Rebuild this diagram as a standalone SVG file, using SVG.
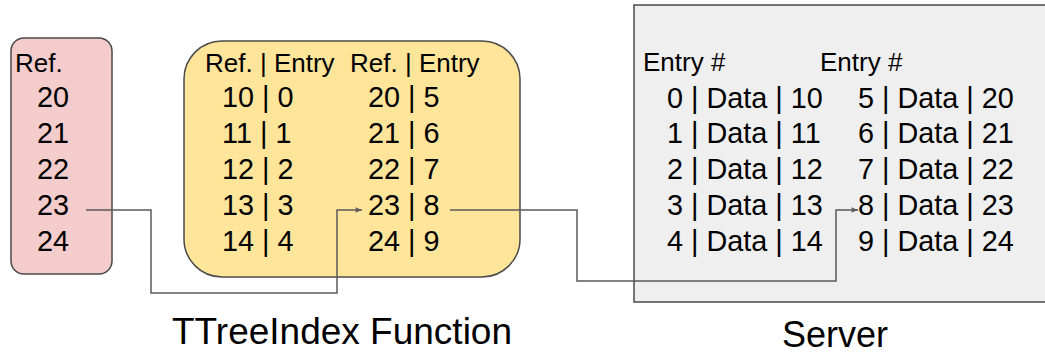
<svg xmlns="http://www.w3.org/2000/svg" width="1045" height="355" viewBox="0 0 1045 355">
<style>
.box{stroke:#4a4a4a;stroke-width:1.5}
text{font-family:"Liberation Sans",Arial,sans-serif;fill:#000}
.h{font-size:26px}
.r{font-size:28.8px}
.t{font-size:37px}
.conn{fill:none;stroke:#595959;stroke-width:1.5}
</style>
<defs>
<marker id="arr" viewBox="0 0 10 10" refX="10" refY="5" markerWidth="7" markerHeight="7" markerUnits="userSpaceOnUse" orient="auto">
<path d="M0,1 L10,5 L0,9 L2,5 Z" fill="#595959"/>
</marker>
</defs>
<rect width="1045" height="355" fill="#fff"/>
<g id="server">
<rect class="box" x="634" y="5" width="420" height="297" fill="#efefef"/>
<text class="h" x="643" y="71">Entry #</text>
<text class="h" x="820" y="71">Entry #</text>
<text class="r" x="667" y="108">0 | Data | 10</text>
<text class="r" x="667" y="143">1 | Data | 11</text>
<text class="r" x="667" y="179">2 | Data | 12</text>
<text class="r" x="667" y="215">3 | Data | 13</text>
<text class="r" x="667" y="251">4 | Data | 14</text>
<text class="r" x="858" y="108">5 | Data | 20</text>
<text class="r" x="858" y="143">6 | Data | 21</text>
<text class="r" x="858" y="179">7 | Data | 22</text>
<text class="r" x="858" y="215">8 | Data | 23</text>
<text class="r" x="858" y="251">9 | Data | 24</text>
<text class="t" x="782" y="347" style="font-size:36px">Server</text>
</g>
<g id="refs">
<rect class="box" x="11" y="38" width="101" height="236" rx="13" fill="#f4cccc"/>
<text class="h" x="15" y="72">Ref.</text>
<text class="r" x="37" y="107">20</text>
<text class="r" x="37" y="143">21</text>
<text class="r" x="37" y="179">22</text>
<text class="r" x="37" y="215">23</text>
<text class="r" x="37" y="251">24</text>
</g>
<g id="ttreeindex">
<rect class="box" x="184" y="41" width="336" height="236" rx="38" fill="#ffe599"/>
<text class="h" x="205" y="72">Ref. | Entry</text>
<text class="h" x="350" y="72">Ref. | Entry</text>
<text class="r" x="222" y="107">10 | 0</text>
<text class="r" x="222" y="143">11 | 1</text>
<text class="r" x="222" y="179">12 | 2</text>
<text class="r" x="222" y="215">13 | 3</text>
<text class="r" x="222" y="251">14 | 4</text>
<text class="r" x="368" y="107">20 | 5</text>
<text class="r" x="368" y="143">21 | 6</text>
<text class="r" x="368" y="179">22 | 7</text>
<text class="r" x="368" y="215">23 | 8</text>
<text class="r" x="368" y="251">24 | 9</text>
<text class="t" x="172" y="344">TTreeIndex Function</text>
</g>
<g id="connectors">
<polyline class="conn" points="86,210 151,210 151,293 337,293 337,210 362,210" marker-end="url(#arr)"/>
<polyline class="conn" points="450,210 577,210 577,281 836,281 836,210 858,210" marker-end="url(#arr)"/>
</g>
</svg>
